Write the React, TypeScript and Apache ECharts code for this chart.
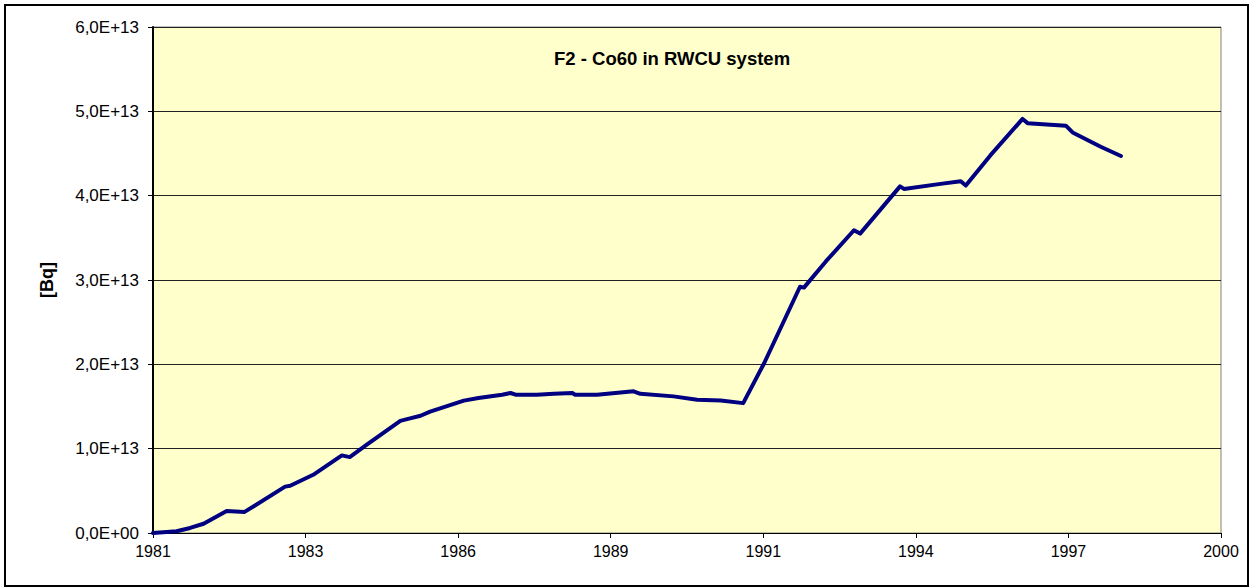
import React, { useEffect, useRef } from "react";
import * as echarts from "echarts";

// Decimal years of each reading
const years = [
  1981.0, 1981.42, 1981.66, 1981.9, 1982.31, 1982.63, 1983.35, 1983.44, 1983.85,
  1984.36, 1984.5, 1984.81, 1985.4, 1985.52, 1985.76, 1985.93, 1986.53, 1986.79,
  1987.21, 1987.36, 1987.45, 1987.83, 1988.13, 1988.46, 1988.51, 1988.9, 1989.55,
  1989.67, 1990.26, 1990.68, 1991.1, 1991.5, 1991.87, 1992.51, 1992.58, 1992.97,
  1993.47, 1993.58, 1994.29, 1994.36, 1995.01, 1995.37, 1995.46, 1995.9, 1996.47,
  1996.56, 1997.24, 1997.36, 1997.86, 1998.22,
];

// Co60 activity in [Bq]
const activity = [
  0.0, 0.02e13, 0.06e13, 0.11e13, 0.26e13, 0.25e13, 0.55e13, 0.56e13, 0.69e13,
  0.92e13, 0.9e13, 1.05e13, 1.33e13, 1.35e13, 1.39e13, 1.44e13, 1.57e13, 1.6e13,
  1.64e13, 1.66e13, 1.64e13, 1.64e13, 1.65e13, 1.66e13, 1.64e13, 1.64e13, 1.68e13,
  1.65e13, 1.62e13, 1.58e13, 1.57e13, 1.54e13, 2.01e13, 2.92e13, 2.91e13, 3.22e13,
  3.59e13, 3.55e13, 4.11e13, 4.08e13, 4.14e13, 4.17e13, 4.12e13, 4.48e13, 4.91e13,
  4.86e13, 4.83e13, 4.75e13, 4.58e13, 4.47e13,
];

const xTickLabels = ["1981", "1983", "1986", "1989", "1991", "1994", "1997", "2000"];
const yTickLabels = ["0,0E+00", "1,0E+13", "2,0E+13", "3,0E+13", "4,0E+13", "5,0E+13", "6,0E+13"];

const startYear = 1981;
const endYear = 2000;
const FONT = '"Liberation Sans", Arial, sans-serif';

export default function App() {
  const ref = useRef<HTMLDivElement>(null);

  useEffect(() => {
    document.body.style.margin = "0";
    if (!ref.current) return;
    const chart = echarts.init(ref.current, undefined, { renderer: "svg" });
    const nInt = xTickLabels.length - 1;
    const toIdx = (y: number) => ((y - startYear) / (endYear - startYear)) * nInt;
    const data = years.map((y, i) => [toIdx(y), activity[i]]);

    chart.setOption({
      animation: false,
      backgroundColor: "#ffffff",
      grid: {
        left: 153,
        top: 27,
        right: 37,
        bottom: 55,
        show: true,
        backgroundColor: "#FFFFCC",
        borderColor: "#808080",
        borderWidth: 1,
      },
      title: {
        text: "F2 - Co60 in RWCU system",
        left: 549,
        top: 44,
        textStyle: { fontFamily: FONT, fontSize: 18.5, fontWeight: "bold", color: "#000" },
      },
      xAxis: {
        type: "value",
        min: 0,
        max: nInt,
        interval: 1,
        axisLine: { show: true, lineStyle: { color: "#000", width: 1 } },
        axisTick: { show: true, inside: false, length: 5, lineStyle: { color: "#000" } },
        axisLabel: {
          fontFamily: FONT,
          fontSize: 16,
          color: "#000",
          margin: 10,
          formatter: (v: number) => xTickLabels[Math.round(v)] ?? "",
        },
        splitLine: { show: false },
      },
      yAxis: {
        type: "value",
        min: 0,
        max: 6e13,
        interval: 1e13,
        axisLine: { show: true, lineStyle: { color: "#000", width: 2 } },
        axisTick: { show: true, inside: false, length: 5, lineStyle: { color: "#000" } },
        axisLabel: {
          fontFamily: FONT,
          fontSize: 17,
          color: "#000",
          margin: 14,
          formatter: (v: number) => yTickLabels[Math.round(v / 1e13)] ?? "",
        },
        splitLine: { show: true, lineStyle: { color: "#222", width: 1 } },
      },
      series: [
        {
          type: "line",
          data,
          showSymbol: false,
          lineStyle: { color: "#000080", width: 4, join: "round", cap: "round" },
          itemStyle: { color: "#000080" },
        },
      ],
      graphic: [
        {
          type: "rect",
          shape: { x: 5, y: 5, width: 1243, height: 581 },
          style: { fill: "none", stroke: "#000", lineWidth: 2 },
          z: 10,
        },
        {
          type: "text",
          x: 47,
          y: 280,
          rotation: Math.PI / 2,
          style: {
            text: "[Bq]",
            fontFamily: FONT,
            fontSize: 18,
            fontWeight: "bold",
            fill: "#000",
            align: "center",
            verticalAlign: "middle",
          },
        },
      ],
    });
    return () => chart.dispose();
  }, []);

  return <div ref={ref} style={{ width: 1258, height: 588 }} />;
}
